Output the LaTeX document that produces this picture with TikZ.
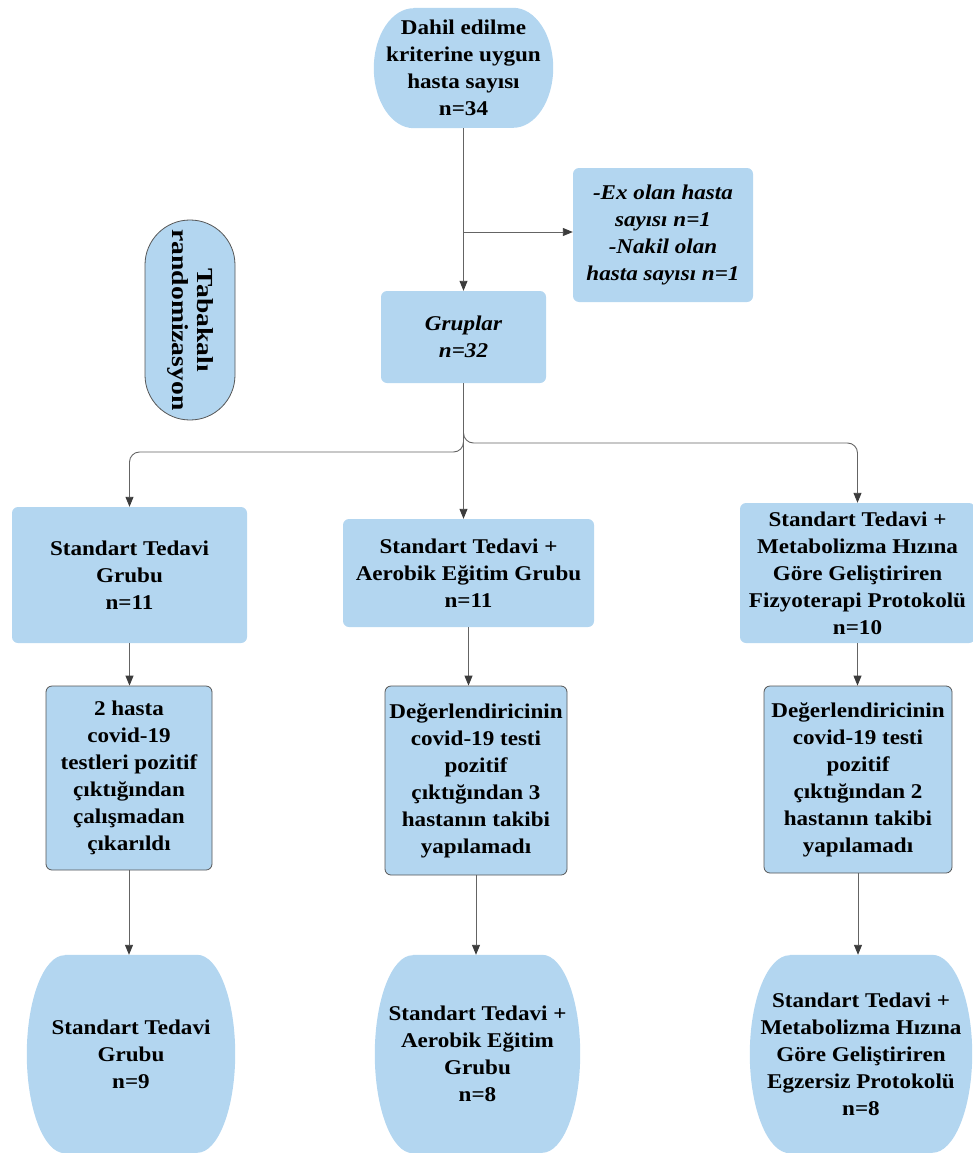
\documentclass[tikz,border=0pt]{standalone}
\usepackage{fontspec}
\setmainfont{Liberation Serif}[FakeStretch=1.1]
\newfontfamily\tabfont{Liberation Serif}[FakeStretch=1.2]
\usetikzlibrary{arrows.meta,calc}
\definecolor{bf}{RGB}{179,214,240}
\definecolor{ln}{RGB}{100,100,100}
\definecolor{ah}{RGB}{60,60,60}
\definecolor{bd}{RGB}{85,85,85}
\pgfdeclarelayer{bg}
\pgfsetlayers{bg,main}
\newcommand\barrelshape[3]{%
  \begin{pgfonlayer}{bg}
  \fill[bf] ([xshift=#2]#1.north west) -- ([xshift=-#2]#1.north east)
    arc[start angle=90,end angle=-90,x radius=#2,y radius=#3]
    -- ([xshift=#2]#1.south west)
    arc[start angle=270,end angle=90,x radius=#2,y radius=#3] -- cycle;
  \end{pgfonlayer}}
\begin{document}
\begin{tikzpicture}[x=1pt,y=-1pt,
  txt/.style={font=\fontsize{21}{27}\selectfont\bfseries, align=center, inner sep=0pt},
  itxt/.style={font=\fontsize{21}{27}\selectfont\bfseries\itshape, align=center, inner sep=0pt},
  box/.style={txt, fill=bf, rounded corners=6pt},
  ibox/.style={itxt, fill=bf, rounded corners=6pt},
  bbox/.style={box, draw=bd, line width=0.8pt},
  arr/.style={draw=ln, line width=0.9pt, rounded corners=10pt,
    -{Triangle[length=10pt,width=8pt,color=ah,fill=ah]}}]
\useasboundingbox (0,0) rectangle (973,1153);

% top
\node[txt, minimum width=179pt, minimum height=120pt] (top) at (463.5,68)
  {Dahil edilme\\kriterine uygun\\hasta sayısı\\n=34};
\barrelshape{top}{40pt}{60pt}

\node[ibox, minimum width=180pt, minimum height=134pt] (excl) at (663,235)
  {-Ex olan hasta\\sayısı n=1\\-Nakil olan\\hasta sayısı n=1};

\node[txt, font=\tabfont\fontsize{23}{25}\selectfont\bfseries, rotate=-90, fill=bf, draw=bd,
  line width=0.8pt, rounded corners=44.9pt, minimum width=200pt, minimum height=90pt] (tab) at (190,320)
  {Tabakalı\\randomizasyon};

\node[ibox, minimum width=165pt, minimum height=92pt] (grup) at (463.5,337)
  {Gruplar\\n=32};

% row 2
\node[box, minimum width=235pt, minimum height=136pt] (L2) at (129.5,575)
  {Standart Tedavi\\Grubu\\n=11};
\node[box, minimum width=251pt, minimum height=108pt] (M2) at (468.5,573)
  {Standart Tedavi +\\Aerobik Eğitim Grubu\\n=11};
\node[box, minimum width=235pt, minimum height=140pt] (R2) at (857.5,573)
  {Standart Tedavi +\\Metabolizma Hızına\\Göre Geliştiriren\\Fizyoterapi Protokolü\\n=10};

% row 3
\node[bbox, minimum width=166pt, minimum height=184pt] (L3) at (129,778)
  {2 hasta\\covid-19\\testleri pozitif\\çıktığından\\çalışmadan\\çıkarıldı};
\node[bbox, minimum width=182pt, minimum height=189pt] (M3) at (476,780.5)
  {Değerlendiricinin\\covid-19 testi\\pozitif\\çıktığından 3\\hastanın takibi\\yapılamadı};
\node[bbox, minimum width=188pt, minimum height=187pt] (R3) at (858,779.5)
  {Değerlendiricinin\\covid-19 testi\\pozitif\\çıktığından 2\\hastanın takibi\\yapılamadı};

% row 4
\node[txt, minimum width=208pt, minimum height=198pt] (L4) at (131,1054)
  {Standart Tedavi\\Grubu\\n=9};
\barrelshape{L4}{38pt}{99pt}
\node[txt, minimum width=205pt, minimum height=198pt] (M4) at (477.5,1054)
  {Standart Tedavi +\\Aerobik Eğitim\\Grubu\\n=8};
\barrelshape{M4}{38pt}{99pt}
\node[txt, minimum width=222pt, minimum height=198pt] (R4) at (861,1054)
  {Standart Tedavi +\\Metabolizma Hızına\\Göre Geliştiriren\\Egzersiz Protokolü\\n=8};
\barrelshape{R4}{40pt}{99pt}

% connectors
\coordinate (j1) at (463.5,232);
\coordinate (bl) at (129.5,452);
\coordinate (br) at (857.5,443);
\draw[arr] (top.south) -- (grup.north);
\draw[arr] (j1) -- (j1 -| excl.west);
\draw[arr] (grup.south) |- (bl) -- (L2.north);
\draw[arr] (grup.south) -- (grup.south |- M2.north);
\draw[arr] (grup.south) |- (br) -- (R2.north);
\draw[arr] (L2.south) -- (L2.south |- L3.north);
\draw[arr] (M2.south) -- (M2.south |- M3.north);
\draw[arr] (R2.south) -- (R2.south |- R3.north);
\draw[arr] (L3.south) -- (L3.south |- L4.north);
\draw[arr] (M3.south) -- (M3.south |- M4.north);
\draw[arr] (R3.south) -- (R3.south |- R4.north);
\end{tikzpicture}
\end{document}
